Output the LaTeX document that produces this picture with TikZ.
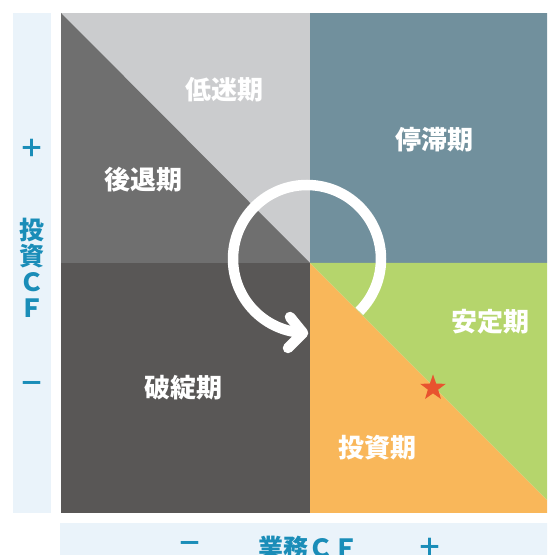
\documentclass[tikz,border=0pt]{standalone}
\usepackage{fontspec}
\newfontfamily\jp{Noto Sans CJK JP}
\usetikzlibrary{shapes.geometric}
\definecolor{lgray}{HTML}{CBCCCE}
\definecolor{mgray}{HTML}{6F6F6F}
\definecolor{slate}{HTML}{71909D}
\definecolor{dgray}{HTML}{595756}
\definecolor{orng}{HTML}{F9B75A}
\definecolor{grn}{HTML}{B5D56C}
\definecolor{starc}{HTML}{E8532F}
\definecolor{barbg}{HTML}{EAF3FA}
\definecolor{axis}{HTML}{1A8DB8}
\tikzset{
  phase/.style={text=white, font=\jp\bfseries\fontsize{26}{28}\selectfont, inner sep=0pt},
  axislabel/.style={text=axis, font=\jp\bfseries\fontsize{25}{26}\selectfont, inner sep=0pt},
  cyc/.style={draw=white, line width=10.5pt}
}
\begin{document}
\begin{tikzpicture}[x=1pt,y=1pt]
\useasboundingbox (0,0) rectangle (547,555);
\fill[white] (0,0) rectangle (547,555);
\begin{scope}
\clip (0,0) rectangle (547,555);
% side bars
\fill[barbg] (13,42) rectangle (51,542);
\fill[barbg] (60,-20) rectangle (560,32);
% quadrants
\fill[lgray] (61,292) rectangle (310,542);
\fill[mgray] (61,542) -- (61,292) -- (310,292) -- cycle;
\fill[slate] (310,292) rectangle (560,542);
\fill[dgray] (61,42) rectangle (310,292);
\fill[orng] (310,292) -- (310,42) -- (560,42) -- cycle;
\fill[grn] (310,292) -- (560,292) -- (560,42) -- cycle;
% cycle arrow
\draw[cyc] (307,296) ++(-45:74) arc[start angle=-45, end angle=268, radius=74];
\draw[cyc, line cap=round, line join=round] (290,238) -- (303,222) -- (288,207);
% star
\node[star, star points=5, star point ratio=2.5, fill=starc, minimum size=27pt, inner sep=0pt] (st) at (433,167) {};
% phase labels
\node[phase] (p1) at (224,465) {低迷期};
\node[phase] (p2) at (143.5,375) {後退期};
\node[phase] (p3) at (434,415) {停滞期};
\node[phase] (p4) at (490,233) {安定期};
\node[phase] (p5) at (183.5,167) {破綻期};
\node[phase] (p6) at (377,107) {投資期};
% axis labels
\node[axislabel] (lp) at (32,407) {＋};
\node[axislabel, align=center] (lt) at (32,287.5) {投\\資\\Ｃ\\Ｆ};
\node[axislabel] (lm) at (32,168) {－};
\node[axislabel] (bm) at (190,8) {－};
\node[axislabel] (bt) at (308,7) {業務ＣＦ};
\node[axislabel] (bp) at (430,8) {＋};
\end{scope}
\end{tikzpicture}
\end{document}
